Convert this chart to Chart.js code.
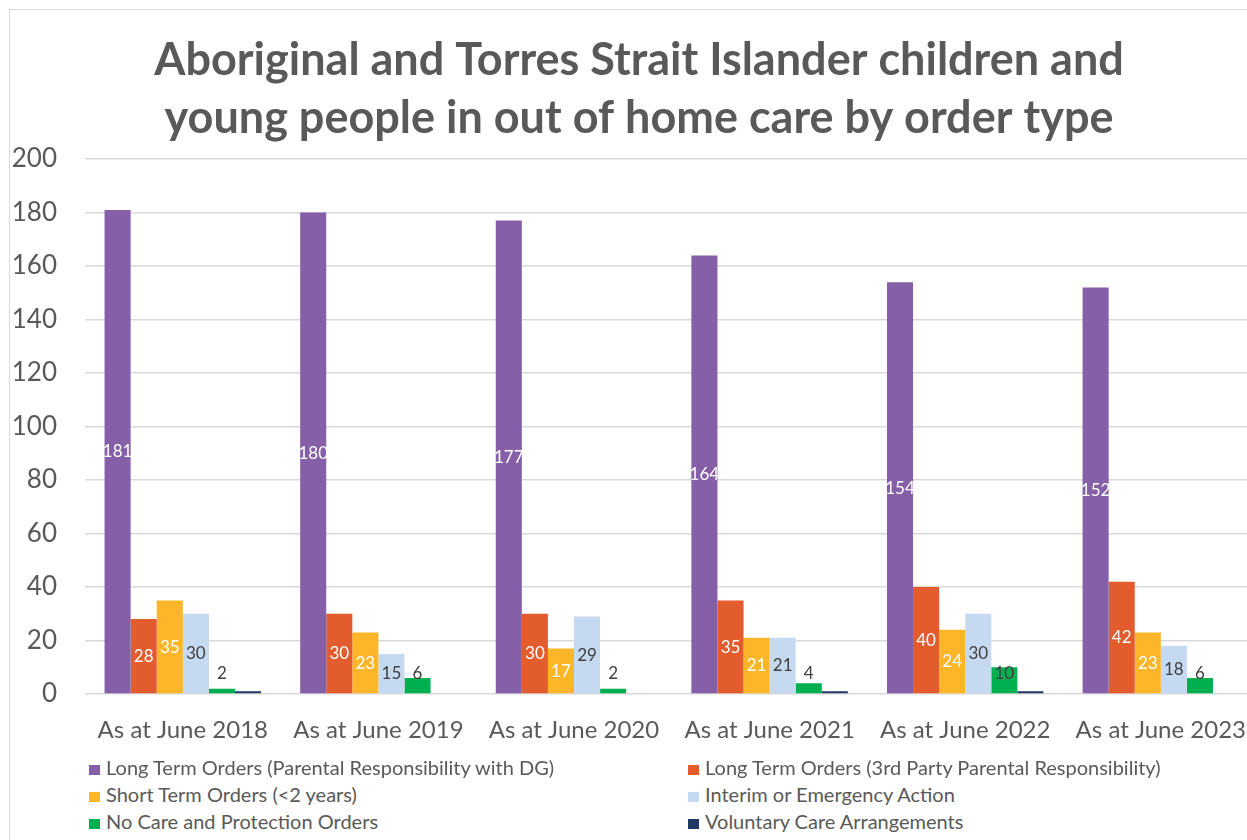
<!DOCTYPE html>
<html>
<head>
<meta charset="utf-8">
<script src="https://cdn.jsdelivr.net/npm/chart.js@4.4.1/dist/chart.umd.min.js"></script>
<style>
body { margin: 0; overflow: hidden; background: #fff; width: 1247px; height: 840px; font-family: Lato, sans-serif; }
#frame { position: absolute; left: 9px; top: 9px; width: 1300px; height: 900px; border: 1.5px solid #d9d9d9; }
#orderChart { position: absolute; left: 10px; top: 10px; }
.leg { position: absolute; height: 26px; line-height: 26px; font-size: 20px; color: #595959; white-space: nowrap; }
.leg i { display: inline-block; width: 11px; height: 10px; margin-right: 6px; vertical-align: 0px; }
</style>
</head>
<body>
<div id="frame"></div>
<canvas id="orderChart" width="1258" height="750"></canvas>
<div id="legend"></div>
<script>
/*
==================================
    Data
==================================
*/
var years = ["As at June 2018", "As at June 2019", "As at June 2020", "As at June 2021", "As at June 2022", "As at June 2023"];
var longTermDG = [181, 180, 177, 164, 154, 152];
var longTermThirdParty = [28, 30, 30, 35, 40, 42];
var shortTerm = [35, 23, 17, 21, 24, 23];
var interim = [30, 15, 29, 21, 30, 18];
var noCare = [2, 6, 2, 4, 10, 6];
var voluntary = [1, 0, 0, 1, 1, 0];
var yTicks = [0, 20, 40, 60, 80, 100, 120, 140, 160, 180, 200];

var seriesNames = [
    "Long Term Orders (Parental Responsibility with DG)",
    "Long Term Orders (3rd Party Parental Responsibility)",
    "Short Term Orders (<2 years)",
    "Interim or Emergency Action",
    "No Care and Protection Orders",
    "Voluntary Care Arrangements"
];
var seriesData = [longTermDG, longTermThirdParty, shortTerm, interim, noCare, voluntary];
var seriesColors = ['#8560A8', '#E35C2E', '#FDB62A', '#C5D9F1', '#00B050', '#1F3864'];
var labelColors = ['#ffffff', '#ffffff', '#ffffff', '#404040', '#404040', null];

/*
==================================
    Bar value labels
==================================
*/
var valueLabels = {
    id: 'valueLabels',
    afterDatasetsDraw: function(chart) {
        var ctx = chart.ctx;
        var base = chart.scales.y.getPixelForValue(0);
        ctx.save();
        ctx.font = '17px Lato';
        ctx.textAlign = 'center';
        ctx.textBaseline = 'middle';
        chart.data.datasets.forEach(function(ds, i) {
            if (!labelColors[i]) return;
            ctx.fillStyle = labelColors[i];
            chart.getDatasetMeta(i).data.forEach(function(bar, j) {
                var y = Math.min((bar.y + base) / 2, base - 20.5);
                ctx.fillText(ds.data[j], bar.x, y);
            });
        });
        ctx.restore();
    }
};

var datasets = seriesNames.map(function(name, i) {
    return {
        label: name,
        data: seriesData[i],
        backgroundColor: seriesColors[i],
        borderWidth: 0,
        categoryPercentage: 0.8,
        barPercentage: 1.0
    };
});

var ctx = document.getElementById("orderChart");
var orderChart = new Chart(ctx, {
    type: 'bar',
    data: { labels: years, datasets: datasets },
    options: {
        responsive: false,
        animation: false,
        layout: { padding: { left: 0, right: 0, top: 0, bottom: 0 } },
        plugins: {
            legend: { display: false },
            tooltip: { enabled: false },
            title: {
                display: true,
                text: ['Aboriginal and Torres Strait Islander children and', 'young people in out of home care by order type'],
                color: '#595959',
                font: { family: 'Lato', size: 45, weight: 'bold', lineHeight: 1.29 },
                padding: { top: 21, bottom: 12 }
            }
        },
        scales: {
            x: {
                grid: { display: false, drawTicks: false },
                border: { display: false },
                ticks: { color: '#595959', font: { family: 'Lato', size: 24 }, padding: 22, maxRotation: 0 },
                afterFit: function(s) { s.height = 66; }
            },
            y: {
                min: 0,
                max: 200,
                afterBuildTicks: function(s) { s.ticks = yTicks.map(function(v) { return { value: v }; }); },
                grid: { color: '#d9d9d9', lineWidth: 1.5, drawTicks: false },
                border: { display: false },
                ticks: { color: '#595959', font: { family: 'Lato', size: 26 }, padding: 28 },
                afterFit: function(s) { s.width = 75; }
            }
        }
    },
    plugins: [valueLabels]
});

/*
==================================
    Legend
==================================
*/
var legend = document.getElementById('legend');
var colX = [89, 688];
var rowY = [754, 781, 808];
seriesNames.forEach(function(name, i) {
    var item = document.createElement('div');
    item.className = 'leg';
    item.style.left = colX[i % 2] + 'px';
    item.style.top = rowY[Math.floor(i / 2)] + 'px';
    item.innerHTML = "<i style='background:" + seriesColors[i] + "'></i>";
    item.appendChild(document.createTextNode(name));
    legend.appendChild(item);
});
</script>
</body>
</html>
